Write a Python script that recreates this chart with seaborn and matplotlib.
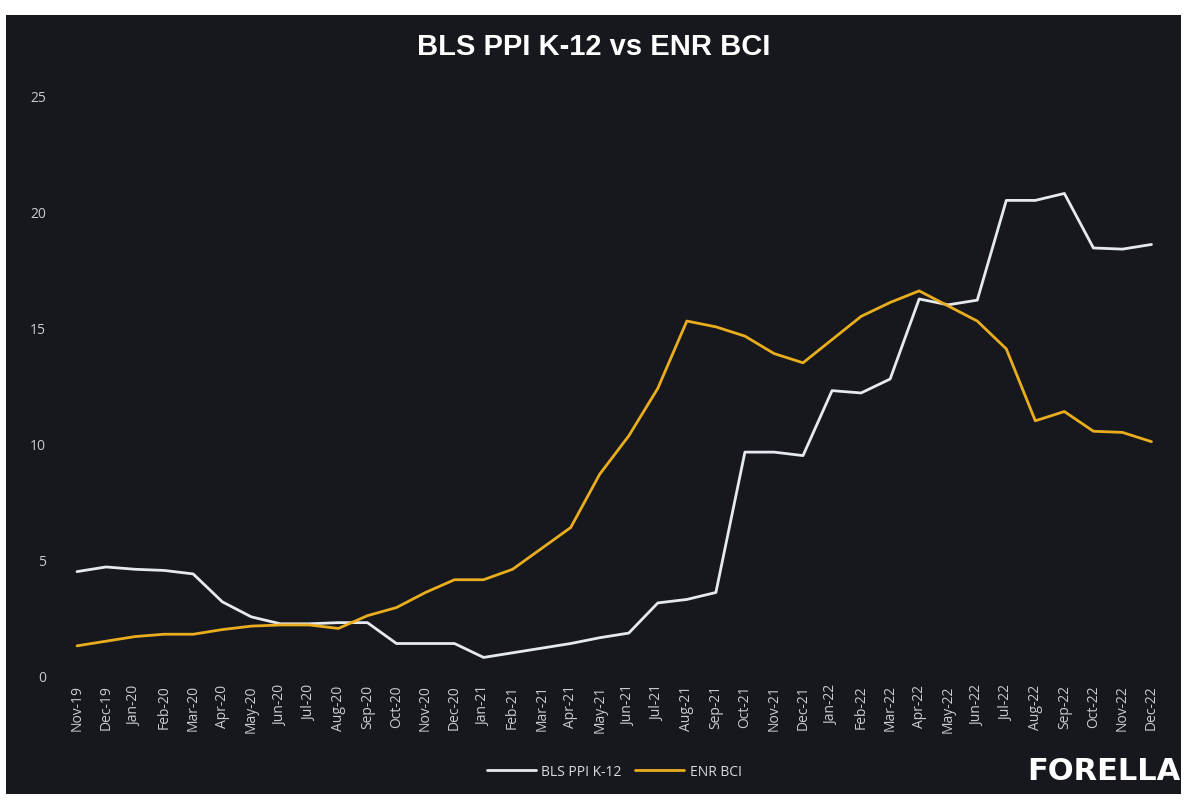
import pandas as pd
import matplotlib.pyplot as plt
import seaborn as sns
from matplotlib.patches import Rectangle

# Monthly values
months = ['Nov-19', 'Dec-19', 'Jan-20', 'Feb-20', 'Mar-20', 'Apr-20', 'May-20', 'Jun-20',
          'Jul-20', 'Aug-20', 'Sep-20', 'Oct-20', 'Nov-20', 'Dec-20', 'Jan-21', 'Feb-21',
          'Mar-21', 'Apr-21', 'May-21', 'Jun-21', 'Jul-21', 'Aug-21', 'Sep-21', 'Oct-21',
          'Nov-21', 'Dec-21', 'Jan-22', 'Feb-22', 'Mar-22', 'Apr-22', 'May-22', 'Jun-22',
          'Jul-22', 'Aug-22', 'Sep-22', 'Oct-22', 'Nov-22', 'Dec-22']
bls_ppi = [4.5, 4.7, 4.6, 4.55, 4.4, 3.2, 2.55, 2.25, 2.25, 2.3, 2.3, 1.4, 1.4, 1.4,
           0.8, 1.0, 1.2, 1.4, 1.65, 1.85, 3.15, 3.3, 3.6, 9.65, 9.65, 9.5, 12.3, 12.2,
           12.8, 16.25, 16.0, 16.2, 20.5, 20.5, 20.8, 18.45, 18.4, 18.6]
enr_bci = [1.3, 1.5, 1.7, 1.8, 1.8, 2.0, 2.15, 2.2, 2.2, 2.05, 2.6, 2.95, 3.6, 4.15,
           4.15, 4.6, 5.5, 6.4, 8.7, 10.35, 12.4, 15.3, 15.05, 14.65, 13.9, 13.5, 14.5,
           15.5, 16.1, 16.6, 15.95, 15.3, 14.1, 11.0, 11.4, 10.55, 10.5, 10.1]

data = pd.DataFrame({
    'idx': list(range(len(months))) * 2,
    'value': bls_ppi + enr_bci,
    'series': ['BLS PPI K-12'] * len(months) + ['ENR BCI'] * len(months),
})

bg = '#16181d'
sns.set_theme(style='dark')
plt.rcParams['font.family'] = ['Open Sans', 'DejaVu Sans']

fig = plt.figure(figsize=(11.87, 8.03), dpi=100, facecolor='white')
fig.patches.append(Rectangle((0.005, 0.01), 0.99, 0.97, transform=fig.transFigure,
                             facecolor=bg, edgecolor='none', zorder=-1))
ax = fig.add_axes([62.5 / 1187, 1 - 677 / 803, (1166 - 62.5) / 1187, 580 / 803])
ax.set_facecolor(bg)

sns.lineplot(data=data, x='idx', y='value', hue='series',
             palette={'BLS PPI K-12': '#e4eaf0', 'ENR BCI': '#e9ad1e'},
             linewidth=2.0, ax=ax)

ax.set_xlim(-0.5, len(months) - 0.5)
ax.set_ylim(0, 25)
ax.set_xticks(range(len(months)))
ax.set_xticklabels(months, rotation=90, fontsize=10, color='#c8ccd2')
ax.set_yticks([0, 5, 10, 15, 20, 25])
ax.set_yticklabels(['0', '5', '10', '15', '20', '25'], fontsize=10, color='#c8ccd2')
ax.tick_params(axis='y', pad=12, length=0)
ax.tick_params(axis='x', pad=6, length=0)
ax.set_xlabel('')
ax.set_ylabel('')
ax.grid(False)
for s in ax.spines.values():
    s.set_visible(False)

leg = ax.legend(loc='upper center', bbox_to_anchor=(0.5, -0.13), ncol=2, frameon=False,
                fontsize=10, handlelength=3.5, columnspacing=1.0, handletextpad=0.4)
for t in leg.get_texts():
    t.set_color('#d8dce2')

fig.text(0.5, 1 - 47 / 803, 'BLS PPI K-12 vs ENR BCI', ha='center', va='center',
         fontsize=21, fontweight='bold', color='white', family='Liberation Sans')
fig.text(1180 / 1187, 1 - 772 / 803, 'FORELLA', ha='right', va='center', fontsize=22,
         fontweight='heavy', color='white', family='DejaVu Sans')

fig.savefig('out.png', dpi=100, facecolor=fig.get_facecolor())
